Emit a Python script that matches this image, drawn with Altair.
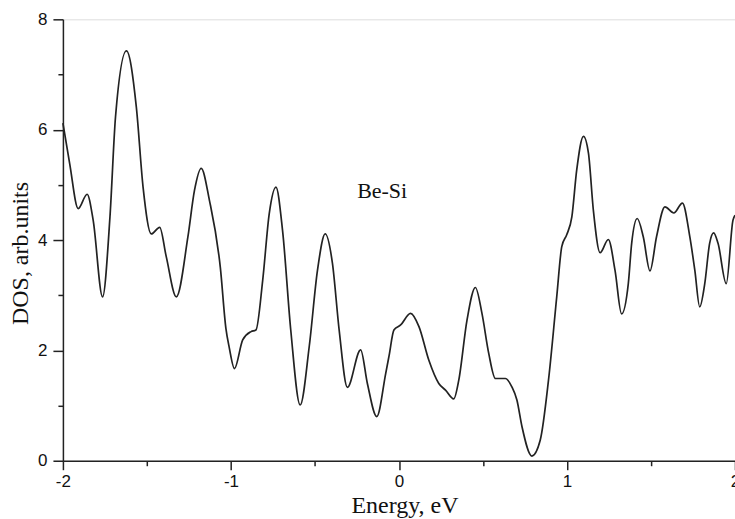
import altair as alt
import pandas as pd

energy = [-2.00, -1.96, -1.909, -1.856, -1.82, -1.764, -1.72, -1.687, -1.622, -1.563,
          -1.523, -1.474, -1.424, -1.385, -1.325, -1.256, -1.217, -1.177, -1.128, -1.063,
          -1.03, -1.01, -0.979, -0.930, -0.880, -0.851, -0.811, -0.772, -0.732, -0.693,
          -0.644, -0.588, -0.534, -0.485, -0.439, -0.396, -0.356, -0.307, -0.228, -0.188,
          -0.132, -0.079, -0.059, -0.030, 0.010, 0.069, 0.119, 0.178, 0.237, 0.277,
          0.326, 0.356, 0.405, 0.455, 0.494, 0.534, 0.574, 0.633, 0.672, 0.702,
          0.732, 0.791, 0.841, 0.890, 0.939, 0.969, 0.999, 1.029, 1.058, 1.098,
          1.128, 1.157, 1.197, 1.246, 1.286, 1.325, 1.365, 1.385, 1.418, 1.454,
          1.494, 1.533, 1.583, 1.636, 1.687, 1.731, 1.761, 1.790, 1.820, 1.849,
          1.873, 1.899, 1.948, 1.988, 2.00]
dos = [6.12, 5.39, 4.57, 4.83, 4.36, 2.97, 4.42, 6.23, 7.43, 6.41,
       4.96, 4.11, 4.23, 3.70, 2.97, 4.06, 4.90, 5.30, 4.72, 3.50,
       2.40, 2.05, 1.67, 2.19, 2.34, 2.37, 3.27, 4.48, 4.96, 4.18,
       2.37, 1.01, 2.07, 3.45, 4.11, 3.58, 2.37, 1.33, 2.01, 1.40,
       0.80, 1.58, 1.90, 2.37, 2.46, 2.67, 2.43, 1.82, 1.40, 1.28,
       1.12, 1.46, 2.55, 3.14, 2.67, 1.95, 1.49, 1.49, 1.34, 1.10,
       0.62, 0.085, 0.375, 1.46, 2.97, 3.88, 4.10, 4.42, 5.27, 5.88,
       5.57, 4.54, 3.77, 4.01, 3.45, 2.66, 3.21, 3.94, 4.39, 4.06,
       3.44, 4.06, 4.60, 4.49, 4.67, 4.06, 3.45, 2.79, 3.21, 3.94,
       4.13, 3.94, 3.21, 4.36, 4.45]

label_text = ["Be-Si"]
label_energy = [-0.10]
label_dos = [4.89]

x_ticks = [-2, -1.5, -1, -0.5, 0, 0.5, 1, 1.5, 2]
y_ticks = [0, 1, 2, 3, 4, 5, 6, 7, 8]

df = pd.DataFrame({"Energy": energy, "DOS": dos})
df_lab = pd.DataFrame({"Energy": label_energy, "DOS": label_dos, "t": label_text})

ink = "#222222"
common = dict(
    grid=False,
    labelFont="Liberation Sans",
    labelFontSize=17,
    labelColor="#111111",
    titleFont="Liberation Serif",
    titleFontSize=24,
    titleFontWeight="normal",
    titleColor="#111111",
    domainColor=ink,
    domainWidth=1.5,
    tickColor=ink,
    tickWidth=1.5,
    labelOverlap=False,
    labelFlush=False,
)

x_enc = alt.X(
    "Energy:Q",
    scale=alt.Scale(domain=[-2, 2], nice=False, zero=False),
    axis=alt.Axis(
        values=x_ticks, title="Energy, eV", labelPadding=4, titlePadding=4,
        titleX=342,
        tickSize={"condition": {"test": "datum.value % 1 !== 0", "value": 5}, "value": 9},
        labelExpr="datum.value % 1 ? '' : toString(datum.value)",
        **common),
)
y_enc = alt.Y(
    "DOS:Q",
    scale=alt.Scale(domain=[0, 8], nice=False),
    axis=alt.Axis(
        values=y_ticks, title="DOS, arb.units", labelPadding=6, titlePadding=5,
        titleY=234,
        tickSize={"condition": {"test": "datum.value % 2 !== 0", "value": 5}, "value": 10},
        labelExpr="datum.value % 2 ? '' : toString(datum.value)",
        **common),
)

line = alt.Chart(df).mark_line(
    color=ink, strokeWidth=1.7, interpolate="monotone"
).encode(x=x_enc, y=y_enc)

text = alt.Chart(df_lab).mark_text(
    font="Liberation Serif", fontSize=22, color="#111111", align="center", baseline="middle"
).encode(x="Energy:Q", y="DOS:Q", text="t:N")

chart = (
    alt.layer(line, text)
    .properties(
        width=673,
        height=442,
        autosize=alt.AutoSizeParams(type="none"),
        padding={"left": 63, "top": 19, "right": 0, "bottom": 58},
    )
    .configure_view(stroke=ink, strokeWidth=1.5)
    .configure(background="white")
)

chart.save("out.html", embed_options={"renderer": "svg", "actions": False})
